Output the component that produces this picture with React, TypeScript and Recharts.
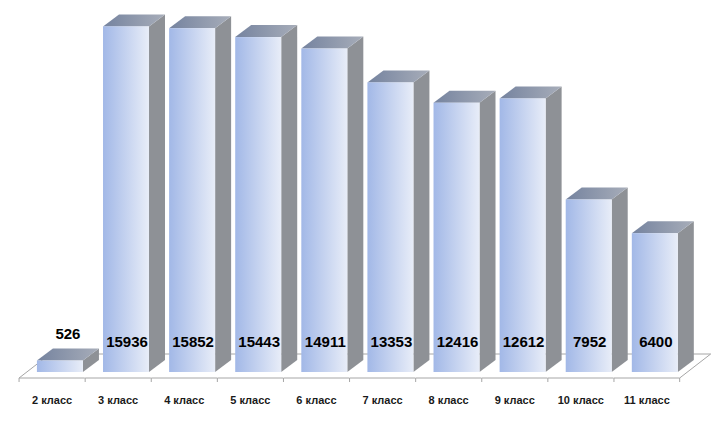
import React from 'react';
import { BarChart, Bar, XAxis, YAxis } from 'recharts';

const categories = ['2 класс', '3 класс', '4 класс', '5 класс', '6 класс', '7 класс', '8 класс', '9 класс', '10 класс', '11 класс'];
const values = [526, 15936, 15852, 15443, 14911, 13353, 12416, 12612, 7952, 6400];
const yDomain = [0, 16000];

const data = categories.map((c, i) => ({ name: c, value: values[i] }));

const DX = 16;
const DY = 12;
const GAP = 0.15;
const FF_DX = -8;
const FF_DY = 6;
const FB_DX = 23;
const FB_DY = -18;
const LINE = '#a6a6a6';

const Floor = (props: any) => {
  const { x, y, width, height, index } = props;
  const band = width / (1 - 2 * GAP);
  const bs = x - GAP * band;
  const be = bs + band;
  const bottom = y + height;
  const fy = bottom + FF_DY;
  const by = bottom + FB_DY;
  const last = index === data.length - 1;
  return (
    <g>
      <line x1={bs + FF_DX} y1={fy} x2={be + FF_DX} y2={fy} stroke={LINE} strokeWidth={1} />
      <line x1={bs + FB_DX} y1={by} x2={be + FB_DX} y2={by} stroke={LINE} strokeWidth={1} />
      <line x1={bs + FF_DX} y1={fy} x2={bs + FF_DX} y2={fy + 4} stroke={LINE} strokeWidth={1} />
      {last && <line x1={be + FF_DX} y1={fy} x2={be + FF_DX} y2={fy + 4} stroke={LINE} strokeWidth={1} />}
      {index === 0 && <line x1={bs + FF_DX} y1={fy} x2={bs + FB_DX} y2={by} stroke={LINE} strokeWidth={1} />}
      {last && <line x1={be + FF_DX} y1={fy} x2={be + FB_DX} y2={by} stroke={LINE} strokeWidth={1} />}
    </g>
  );
};

const Bar3D = (props: any) => {
  const { x, y, width, height, value } = props;
  const w = width;
  const h = height;
  const bottom = y + h;
  const inside = h > 30;
  return (
    <g>
      <polygon
        points={`${x + w},${y} ${x + w + DX},${y - DY} ${x + w + DX},${bottom - DY} ${x + w},${bottom}`}
        fill="#8e9196"
      />
      <polygon
        points={`${x},${y} ${x + DX},${y - DY} ${x + w + DX},${y - DY} ${x + w},${y}`}
        fill="url(#topGrad)"
      />
      <rect x={x} y={y} width={w} height={h} fill="url(#frontGrad)" />
      {inside ? (
        <text x={x + w / 2 + 1} y={bottom - 25} textAnchor="middle" fontFamily="'Liberation Sans', Arial, sans-serif" fontWeight="bold" fontSize={15} fill="#000">
          {value}
        </text>
      ) : (
        <text x={x + w / 2 + DX / 2} y={y - DY - 10} textAnchor="middle" fontFamily="'Liberation Sans', Arial, sans-serif" fontWeight="bold" fontSize={15} fill="#000">
          {value}
        </text>
      )}
    </g>
  );
};

const Tick = (props: any) => {
  const { x, y, payload } = props;
  return (
    <text x={x + FF_DX} y={y + 32} textAnchor="middle" fontFamily="'Liberation Sans', Arial, sans-serif" fontWeight="bold" fontSize={11} fill="#1a1a1a">
      {payload.value}
    </text>
  );
};

export default function App() {
  return (
    <div style={{ position: 'absolute', left: 0, top: 0, background: '#fff' }}>
      <BarChart width={728} height={430} data={data} margin={{ top: 25, right: 40, left: 27, bottom: 0 }} barCategoryGap="15%">
        <defs>
          <linearGradient id="frontGrad" x1="0" y1="0" x2="1" y2="0">
            <stop offset="0%" stopColor="#a2b8e7" />
            <stop offset="100%" stopColor="#e8edf8" />
          </linearGradient>
          <linearGradient id="topGrad" x1="0" y1="0" x2="1" y2="0">
            <stop offset="0%" stopColor="#75839f" />
            <stop offset="100%" stopColor="#a7adb9" />
          </linearGradient>
        </defs>
        <XAxis dataKey="name" axisLine={false} tickLine={false} tickSize={0} tickMargin={0} height={58} tick={<Tick />} interval={0} />
        <YAxis hide domain={yDomain} />
        <Bar dataKey="value" isAnimationActive={false} background={(p: any) => <Floor {...p} />} shape={(p: any) => <Bar3D {...p} />} />
      </BarChart>
    </div>
  );
}
